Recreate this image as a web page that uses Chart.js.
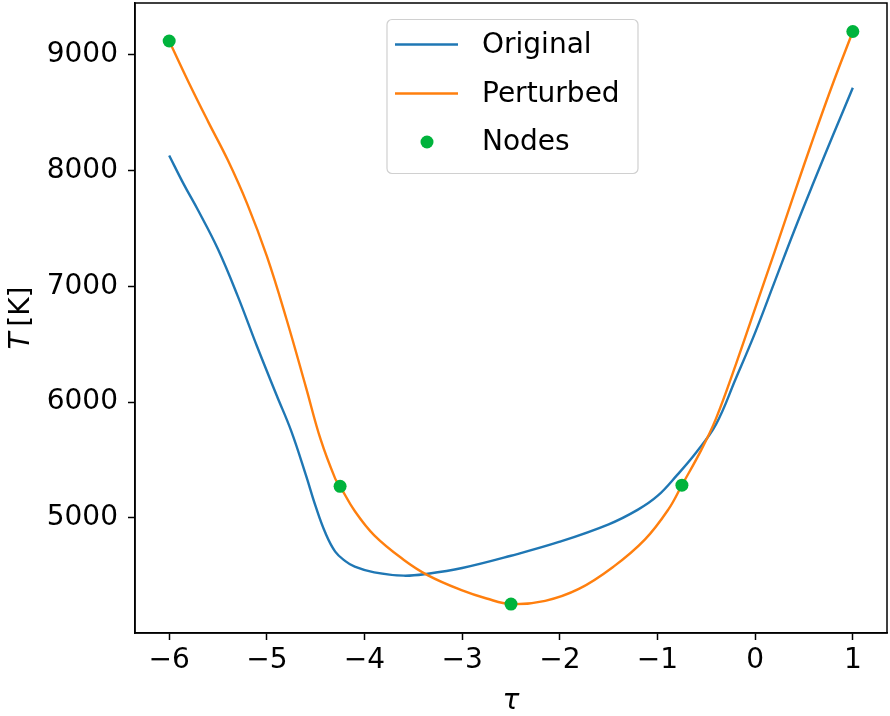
<!DOCTYPE html>
<html>
<head>
<meta charset="utf-8">
<script src="https://cdn.jsdelivr.net/npm/chart.js@4/dist/chart.umd.min.js"></script>
<style>
html,body{margin:0;padding:0;background:#fff;}
#wrap{width:890px;height:716px;}
</style>
</head>
<body>
<div id="wrap"><canvas id="c" width="890" height="716"></canvas></div>
<script>
// ---- data ----
const tauOriginal = [-6, -5.85, -5.7, -5.5, -5.3, -5.1, -4.9, -4.75, -4.6, -4.5, -4.4, -4.3, -4.2, -4.1, -3.9, -3.6, -3.35, -3.0, -2.5, -2.0, -1.5, -1.2, -1.0, -0.8, -0.6, -0.4, -0.2, 0, 0.2, 0.4, 0.6, 0.8, 1.0];
const tempOriginal = [8130, 7880, 7650, 7320, 6920, 6480, 6060, 5750, 5370, 5100, 4870, 4710, 4630, 4580, 4530, 4502, 4519, 4568, 4674, 4795, 4945, 5072, 5190, 5370, 5570, 5810, 6200, 6600, 7040, 7480, 7900, 8310, 8714];

const tauPerturbed = [-6, -5.8, -5.6, -5.4, -5.2, -5.0, -4.8, -4.6, -4.45, -4.3, -4.25, -4.1, -3.9, -3.6, -3.35, -3.0, -2.75, -2.5, -2.15, -1.8, -1.45, -1.13, -0.89, -0.75, -0.55, -0.4, -0.2, 0, 0.2, 0.4, 0.6, 0.8, 1.0];
const tempPerturbed = [9118, 8760, 8420, 8090, 7710, 7260, 6720, 6130, 5680, 5340, 5273, 5060, 4850, 4640, 4505, 4375, 4305, 4257, 4285, 4390, 4580, 4813, 5072, 5283, 5590, 5860, 6320, 6810, 7300, 7800, 8290, 8760, 9200];

const tauNodes = [-6, -4.25, -2.5, -0.75, 1];
const tempNodes = [9118, 5273, 4257, 5283, 9200];

const xTickValues = [-6, -5, -4, -3, -2, -1, 0, 1];
const yTickValues = [5000, 6000, 7000, 8000, 9000];
const seriesLabels = ['Original', 'Perturbed', 'Nodes'];

const toPts = (xs, ys) => xs.map((x, i) => ({x: x, y: ys[i]}));
const fmt = v => (v < 0 ? '\u2212' + Math.abs(v) : String(v));

const FONT = "'DejaVu Sans', sans-serif";

const framePlugin = {
  id: 'frame',
  afterDatasetsDraw(chart) {
    const a = chart.chartArea, ctx = chart.ctx;
    ctx.save();
    ctx.strokeStyle = '#000';
    ctx.lineWidth = 1.5;
    ctx.strokeRect(a.left, a.top, a.right - a.left, a.bottom - a.top);
    ctx.restore();
  },
  afterDraw(chart) {
    const ctx = chart.ctx, a = chart.chartArea;
    const ds = chart.data.datasets;
    ctx.save();
    // legend box
    const bx = 387, by = 19.5, bw = 251, bh = 154, r = 5;
    ctx.beginPath();
    ctx.moveTo(bx + r, by);
    ctx.arcTo(bx + bw, by, bx + bw, by + bh, r);
    ctx.arcTo(bx + bw, by + bh, bx, by + bh, r);
    ctx.arcTo(bx, by + bh, bx, by, r);
    ctx.arcTo(bx, by, bx + bw, by, r);
    ctx.closePath();
    ctx.fillStyle = 'rgba(255,255,255,0.85)';
    ctx.fill();
    ctx.strokeStyle = '#d0d0d0';
    ctx.lineWidth = 1.2;
    ctx.stroke();
    const rows = [44.5, 93.5, 142];
    const order = [2, 1, 0]; // dataset index for Original, Perturbed, Nodes
    ctx.font = '28px ' + FONT;
    ctx.textBaseline = 'middle';
    ctx.textAlign = 'left';
    for (let k = 0; k < 3; k++) {
      const d = ds[order[k]];
      const y = rows[k];
      if (k < 2) {
        ctx.beginPath();
        ctx.moveTo(395, y); ctx.lineTo(458, y);
        ctx.strokeStyle = d.borderColor; ctx.lineWidth = 2.4;
        ctx.stroke();
      } else {
        ctx.beginPath();
        ctx.arc(427, y, 6.5, 0, Math.PI * 2);
        ctx.fillStyle = d.backgroundColor; ctx.fill();
      }
      ctx.fillStyle = '#000';
      ctx.fillText(d.label, 482, y + 1);
    }
    // axis titles
    ctx.fillStyle = '#000';
    ctx.textBaseline = 'alphabetic';
    ctx.font = 'italic 28px ' + FONT;
    ctx.textAlign = 'center';
    ctx.fillText('\u03C4', (a.left + a.right) / 2, 709);
    ctx.translate(29, (a.top + a.bottom) / 2);
    ctx.rotate(-Math.PI / 2);
    ctx.font = 'italic 28px ' + FONT;
    const w1 = ctx.measureText('T').width;
    ctx.font = '28px ' + FONT;
    const w2 = ctx.measureText('\u2009[K]').width;
    const start = -(w1 + w2) / 2;
    ctx.textAlign = 'left';
    ctx.font = 'italic 28px ' + FONT;
    ctx.fillText('T', start, 0);
    ctx.font = '28px ' + FONT;
    ctx.fillText('\u2009[K]', start + w1, 0);
    ctx.restore();
  }
};

new Chart(document.getElementById('c'), {
  type: 'scatter',
  data: {
    datasets: [
      {
        label: seriesLabels[2],
        data: toPts(tauNodes, tempNodes),
        showLine: false,
        pointRadius: 6.5,
        pointHoverRadius: 6.5,
        backgroundColor: '#00b33c',
        borderColor: '#00b33c',
        borderWidth: 0,
        order: 0
      },
      {
        label: seriesLabels[1],
        data: toPts(tauPerturbed, tempPerturbed),
        showLine: true,
        borderColor: '#ff7f0e',
        backgroundColor: '#ff7f0e',
        borderWidth: 2.4,
        pointRadius: 0,
        tension: 0.4,
        order: 1
      },
      {
        label: seriesLabels[0],
        data: toPts(tauOriginal, tempOriginal),
        showLine: true,
        borderColor: '#1f77b4',
        backgroundColor: '#1f77b4',
        borderWidth: 2.4,
        pointRadius: 0,
        tension: 0.4,
        order: 2
      }
    ]
  },
  options: {
    responsive: false,
    animation: false,
    devicePixelRatio: 1,
    layout: {autoPadding: false, padding: {left: 0, right: 3, top: 3, bottom: 0}},
    plugins: {legend: {display: false}, tooltip: {enabled: false}},
    scales: {
      x: {
        type: 'linear',
        min: -6.35, max: 1.35,
        afterFit: s => { s.height = 83; s.paddingLeft = 0; s.paddingRight = 0; },
        afterBuildTicks: s => { s.ticks = xTickValues.map(v => ({value: v})); },
        ticks: {
          includeBounds: false,
          callback: v => fmt(v),
          color: '#000',
          font: {family: FONT, size: 28},
          padding: 4,
          maxRotation: 0
        },
        grid: {drawOnChartArea: false, drawTicks: true, tickLength: 7, tickColor: '#000', tickWidth: 1.5},
        border: {display: true, color: '#000', width: 1.5}
      },
      y: {
        type: 'linear',
        min: 4007, max: 9446,
        afterFit: s => { s.width = 135; s.paddingTop = 0; s.paddingBottom = 0; },
        afterBuildTicks: s => { s.ticks = yTickValues.map(v => ({value: v})); },
        ticks: {
          includeBounds: false,
          callback: v => fmt(v),
          color: '#000',
          font: {family: FONT, size: 28},
          padding: 10
        },
        grid: {drawOnChartArea: false, drawTicks: true, tickLength: 7, tickColor: '#000', tickWidth: 1.5},
        border: {display: true, color: '#000', width: 1.5}
      }
    }
  },
  plugins: [framePlugin]
});
</script>
</body>
</html>
